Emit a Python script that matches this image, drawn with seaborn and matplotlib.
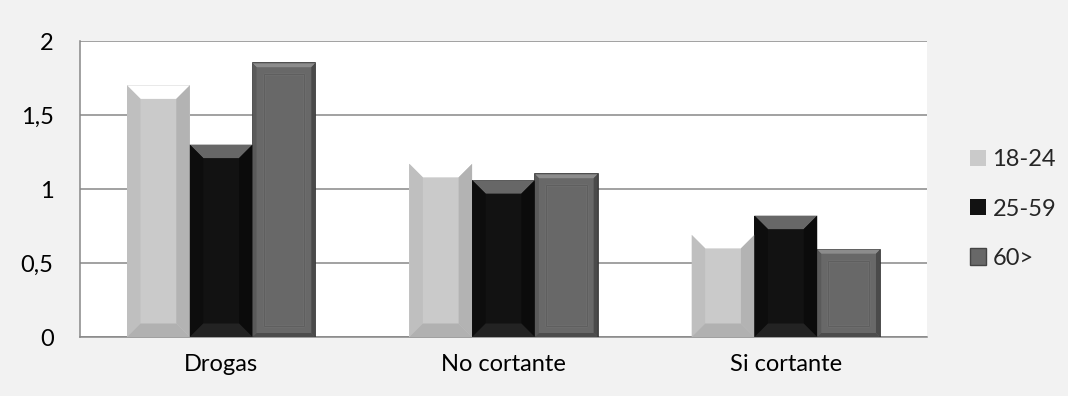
import numpy as np
import pandas as pd
import matplotlib
matplotlib.use("Agg")
import matplotlib.pyplot as plt
from matplotlib.patches import Polygon, Rectangle, Patch
import seaborn as sns

categories = ["Drogas", "No cortante", "Si cortante"]
age_groups = ["18-24", "25-59", "60>"]
values_18_24 = [1.70, 1.17, 0.69]
values_25_59 = [1.30, 1.06, 0.82]
values_60 = [1.85, 1.10, 0.59]
y_ticks = [0, 0.5, 1, 1.5, 2]
y_tick_labels = ["0", "0,5", "1", "1,5", "2"]

df = pd.DataFrame({
    "categoria": categories * 3,
    "edad": [g for g in age_groups for _ in categories],
    "valor": values_18_24 + values_25_59 + values_60,
})

base_colors = {"18-24": "#cacaca", "25-59": "#121212", "60>": "#686868"}
# facet colours: top, left, right, bottom
facets = {
    "18-24": ("#ffffff", "#bfbfbf", "#b3b3b3", "#b1b1b1"),
    "25-59": ("#676767", "#0d0d0d", "#0b0b0b", "#232323"),
}

sns.set_theme(style="white")
plt.rcParams["font.family"] = ["Lato", "DejaVu Sans"]
FS = 17

fig = plt.figure(figsize=(10.68, 3.96), dpi=100, facecolor="#f2f2f2")
ax = fig.add_axes([80 / 1068, 1 - 337 / 396, 847 / 1068, 296 / 396])
ax.set_facecolor("white")

sns.barplot(data=df, x="categoria", y="valor", hue="edad", order=categories,
            hue_order=age_groups, palette=base_colors, width=0.667, gap=0,
            saturation=1, legend=False, errorbar=None, ax=ax, zorder=3)

ax.set_ylim(0, 2)
ax.set_xlim(-0.5, 2.5)

# pixel-to-data scale for bevel sizes
px_x = 3.0 / 847
px_y = 2.0 / 296

for level, cont in zip(age_groups, ax.containers):
    for bar in cont:
        x0, w, h = bar.get_x(), bar.get_width(), bar.get_height()
        x1 = x0 + w
        if level in facets:
            bar.set_edgecolor("none")
            top, left, right, bottom = facets[level]
            dx = 13.5 * px_x
            dy = min(13.5 * px_y, h / 2)
            polys = [
                ([(x0, h), (x1, h), (x1 - dx, h - dy), (x0 + dx, h - dy)], top),
                ([(x0, 0), (x0, h), (x0 + dx, h - dy), (x0 + dx, dy)], left),
                ([(x1, 0), (x1, h), (x1 - dx, h - dy), (x1 - dx, dy)], right),
                ([(x0, 0), (x1, 0), (x1 - dx, dy), (x0 + dx, dy)], bottom),
            ]
            for pts, col in polys:
                ax.add_patch(Polygon(pts, closed=True, facecolor=col,
                                     edgecolor="none", zorder=4))
        else:
            bar.set_edgecolor("#2e2e2e")
            bar.set_linewidth(1.2)
            dx = 4 * px_x
            dy = 4 * px_y
            ax.add_patch(Polygon([(x0, h), (x1, h), (x1 - dx, h - dy), (x0 + dx, h - dy)],
                                 closed=True, facecolor="#8c8c8c", edgecolor="none", zorder=4))
            ax.add_patch(Polygon([(x0, 0), (x0, h), (x0 + dx, h - dy), (x0 + dx, dy)],
                                 closed=True, facecolor="#5a5a5a", edgecolor="none", zorder=4))
            ax.add_patch(Polygon([(x1, 0), (x1, h), (x1 - dx, h - dy), (x1 - dx, dy)],
                                 closed=True, facecolor="#4a4a4a", edgecolor="none", zorder=4))
            ax.add_patch(Polygon([(x0, 0), (x1, 0), (x1 - dx, dy), (x0 + dx, dy)],
                                 closed=True, facecolor="#4c4c4c", edgecolor="none", zorder=4))
            ix, iy = 11 * px_x, 11 * px_y
            ax.add_patch(Rectangle((x0 + ix, iy), w - 2 * ix, h - 2 * iy,
                                   facecolor="none", edgecolor="#7e7e7e",
                                   linewidth=1.0, zorder=4))
            ax.add_patch(Rectangle((x0 + ix, iy), w - 2 * ix, h - 2 * iy,
                                   facecolor="none", edgecolor="#595959",
                                   linewidth=0.6, zorder=4))

# gridlines and axes
grid_color = "#878787"
ax.set_yticks(y_ticks)
ax.set_yticklabels(y_tick_labels)
ax.yaxis.grid(True, color=grid_color, linewidth=1.1, zorder=0)
ax.set_axisbelow(True)

ax.set_xticks([-0.5, 0.5, 1.5, 2.5])
ax.set_xticklabels([])
ax.set_xticks([0, 1, 2], minor=True)
ax.set_xticklabels(categories, minor=True)
ax.tick_params(axis="x", which="major", length=7, width=1.1, color=grid_color,
               direction="out")
ax.tick_params(axis="x", which="minor", length=0, pad=12, labelsize=FS,
               labelcolor="black")
ax.tick_params(axis="y", length=7, width=1.1, color=grid_color, direction="out",
               pad=12, labelsize=FS, labelcolor="black")
ax.set_xlabel("")
ax.set_ylabel("")

for side in ["top", "right"]:
    ax.spines[side].set_visible(False)
for side in ["left", "bottom"]:
    ax.spines[side].set_visible(True)
    ax.spines[side].set_color(grid_color)
    ax.spines[side].set_linewidth(1.1)

handles = [Patch(facecolor=base_colors[g],
                 edgecolor=("#444444" if g == "60>" else "none"), label=g)
           for g in age_groups]
fig.legend(handles=handles, loc="center left",
           bbox_to_anchor=(970 / 1068, 1 - 209 / 396),
           frameon=False, fontsize=FS, handlelength=0.68, handleheight=0.68,
           handletextpad=0.27, labelspacing=1.2, borderpad=0, borderaxespad=0)

fig.savefig("out.png", dpi=100, facecolor=fig.get_facecolor())
